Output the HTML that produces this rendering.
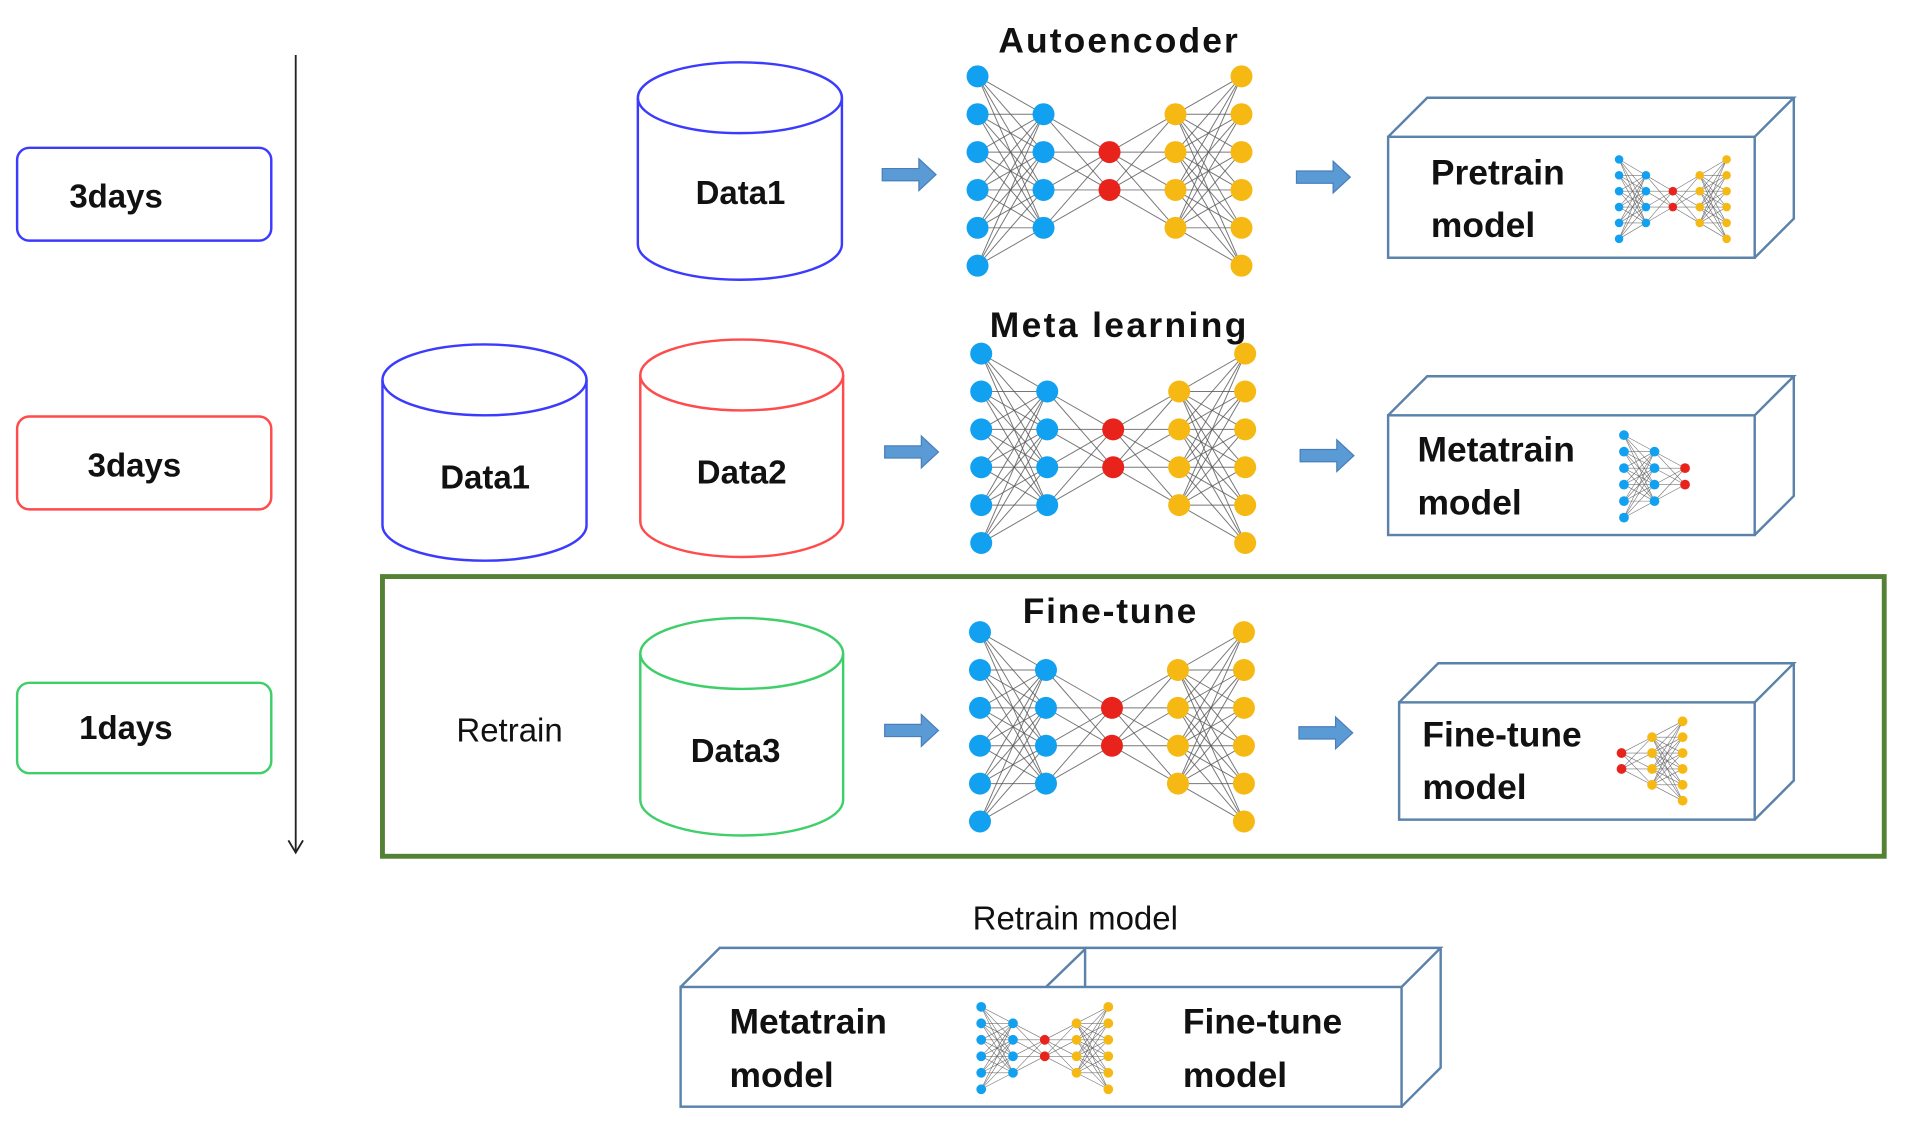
<!DOCTYPE html>
<html><head><meta charset="utf-8"><style>
html,body{margin:0;padding:0;background:#fff;width:1916px;height:1136px;overflow:hidden}
svg text{font-family:"Liberation Sans",sans-serif;fill:#111}
.b{font-weight:bold}
</style></head><body>
<svg id="s" width="1916" height="1136" viewBox="0 0 1568 930" preserveAspectRatio="none" xmlns="http://www.w3.org/2000/svg">
<g fill="none" stroke-width="2">
<rect x="14" y="121" width="208" height="76" rx="10" stroke="#3b3bff"/>
<rect x="14" y="341" width="208" height="76" rx="10" stroke="#ff4b4b"/>
<rect x="14" y="559" width="208" height="74" rx="10" stroke="#3fcf6a"/>
</g>
<text x="95" y="170" font-size="27" class="b" text-anchor="middle">3days</text>
<text x="110" y="390" font-size="27" class="b" text-anchor="middle">3days</text>
<text x="103" y="605" font-size="27" class="b" text-anchor="middle">1days</text>
<line x1="242" y1="45" x2="242" y2="698" stroke="#222" stroke-width="1.5"/>
<path d="M236,688 L242,698 L248,688" fill="none" stroke="#222" stroke-width="1.5"/>
<rect x="313" y="472" width="1229" height="229" fill="none" stroke="#548235" stroke-width="4"/>
<g id="cyl" fill="none" stroke-width="2"></g>
<g id="nets"></g>
<g id="boxes" fill="none" stroke="#5a82aa" stroke-width="2"></g>
<text x="915" y="43" font-size="29" class="b" text-anchor="middle" textLength="196">Autoencoder</text>
<text x="915" y="276" font-size="29" class="b" text-anchor="middle" textLength="210">Meta learning</text>
<text x="908" y="510" font-size="29" class="b" text-anchor="middle" textLength="142">Fine-tune</text>
<text x="417" y="607" font-size="27" text-anchor="middle">Retrain</text>
<text x="880" y="761" font-size="27" text-anchor="middle">Retrain model</text>
<text x="606" y="167" font-size="27" class="b" text-anchor="middle">Data1</text>
<text x="397" y="400" font-size="27" class="b" text-anchor="middle">Data1</text>
<text x="607" y="396" font-size="27" class="b" text-anchor="middle">Data2</text>
<text x="602" y="624" font-size="27" class="b" text-anchor="middle">Data3</text>
<g font-size="29" class="b">
<text x="1171" y="151" class="b">Pretrain</text><text x="1171" y="194" class="b">model</text>
<text x="1160" y="378" class="b">Metatrain</text><text x="1160" y="421" class="b">model</text>
<text x="1164" y="611" class="b">Fine-tune</text><text x="1164" y="654" class="b">model</text>
<text x="597" y="846" class="b">Metatrain</text><text x="597" y="890" class="b">model</text>
<text x="968" y="846" class="b">Fine-tune</text><text x="968" y="890" class="b">model</text>
</g>
</svg>
<script>
var NS="http://www.w3.org/2000/svg";
function el(p,t,a){var e=document.createElementNS(NS,t);for(var k in a)e.setAttribute(k,a[k]);p.appendChild(e);return e;}
var cyl=document.getElementById('cyl');
function cy(x1,x2,t,b,c){var cx=(x1+x2)/2,rx=(x2-x1)/2,ry=29;
el(cyl,'ellipse',{cx:cx,cy:t,rx:rx,ry:ry,stroke:c});
el(cyl,'path',{d:'M'+x1+','+t+' L'+x1+','+b+' A'+rx+','+ry+' 0 0 0 '+x2+','+b+' L'+x2+','+t,stroke:c});}
cy(522,689,80,200,'#3b3bff');cy(313,480,311,430,'#3b3bff');cy(524,690,307,427,'#ff4b4b');cy(524,690,535,655,'#3fcf6a');
var nets=document.getElementById('nets');
var B='#12a1f0',R='#e8231c',Y='#f6b914';
function net(x0,yc,dx,dy,r,cols,sw){var pts=[];
cols.forEach(function(c,i){var a=[];for(var j=0;j<c[0];j++)a.push([x0+i*dx,yc+(j-(c[0]-1)/2)*dy,c[1]]);pts.push(a);});
for(var i=0;i<pts.length-1;i++)pts[i].forEach(function(p){pts[i+1].forEach(function(q){el(nets,'line',{x1:p[0],y1:p[1],x2:q[0],y2:q[1],stroke:'#555','stroke-width':sw,'stroke-opacity':0.8});});});
pts.forEach(function(a){a.forEach(function(p){el(nets,'circle',{cx:p[0],cy:p[1],r:r,fill:p[2]});});});}
var full=[[6,B],[4,B],[2,R],[4,Y],[6,Y]];
net(800,140,54,31,9,full,0.8);net(803,367,54,31,9,full,0.8);net(802,595,54,31,9,full,0.8);
net(1325,163,22,13,3.5,full,0.5);
net(1329,390,25,13.5,4,[[6,B],[4,B],[2,R]],0.5);
net(1327,623,25,13,4,[[2,R],[4,Y],[6,Y]],0.5);
net(803,858,26,13.5,4,full,0.5);
function arr(x,y){el(nets,'path',{d:'M'+x+','+(y-5)+' h30 v-8 l14,13 l-14,13 v-8 h-30 z',fill:'#5b9bd5',stroke:'#4a7ebb','stroke-width':1});}
arr(722,143);arr(1061,145);arr(724,370);arr(1064,373);arr(724,598);arr(1063,600);
var bx=document.getElementById('boxes');
function box(x1,y1,x2,y2){var d=32;
el(bx,'rect',{x:x1,y:y1,width:x2-x1,height:y2-y1});
el(bx,'path',{d:'M'+x1+','+y1+' L'+(x1+d)+','+(y1-d)+' L'+(x2+d)+','+(y1-d)+' L'+x2+','+y1+' M'+(x2+d)+','+(y1-d)+' L'+(x2+d)+','+(y2-d)+' L'+x2+','+y2});}
box(1136,112,1436,211);box(1136,340,1436,438);box(1145,575,1436,671);box(557,808,1147,906);
el(bx,'path',{d:'M856,808 L888,777 L888,808'});
</script>
</body></html>
